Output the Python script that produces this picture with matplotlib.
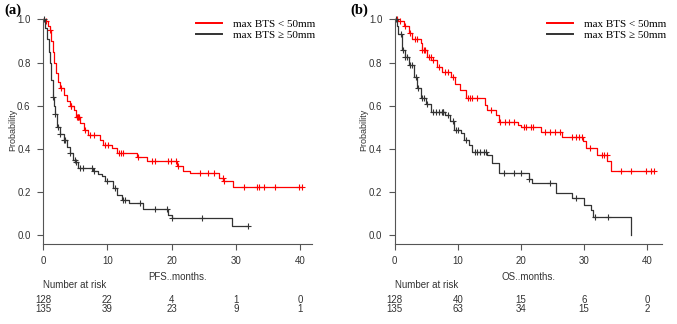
import matplotlib
matplotlib.use("Agg")
import matplotlib.pyplot as plt
import numpy as np

# ---- (a) PFS ----
pfs_lt50_t = [0, 0.3, 0.8, 1.1, 1.3, 1.5, 1.7, 2.0, 2.4, 2.7, 3.2, 3.8, 4.2, 4.8, 5.2, 5.75, 6.3,
              7.05, 8.9, 9.4, 10.7, 11.5, 14.6, 16.1, 20.8, 21.8, 22.9, 27.4, 28.0, 29.6]
pfs_lt50_s = [1.0, 0.99, 0.97, 0.95, 0.90, 0.85, 0.80, 0.75, 0.71, 0.68, 0.65, 0.62, 0.60, 0.58, 0.55, 0.52, 0.49,
              0.465, 0.442, 0.419, 0.404, 0.38, 0.365, 0.342, 0.322, 0.30, 0.29, 0.265, 0.25, 0.224]
pfs_lt50_end = 40.3
pfs_lt50_cens = [0.5, 1.1, 2.8, 4.3, 4.4, 5.3, 5.4, 5.5, 5.6, 6.6, 7.3, 8.0, 9.6, 10.1, 11.8, 12.1, 12.4,
                 14.8, 16.9, 17.4, 19.4, 19.9, 20.6, 21.0, 24.4, 25.6, 26.5, 27.9, 28.2, 31.2, 33.3, 33.6,
                 34.4, 36.1, 39.8, 40.2]

pfs_ge50_t = [0, 0.3, 0.6, 0.9, 1.1, 1.3, 1.5, 1.7, 1.9, 2.1, 2.6, 3.2, 3.7, 4.2, 4.7, 5.0, 5.5, 7.8, 8.5,
              9.1, 9.6, 10.9, 11.5, 12.2, 13.3, 15.6, 19.5, 20.0, 29.3]
pfs_ge50_s = [1.0, 0.96, 0.91, 0.85, 0.80, 0.72, 0.64, 0.60, 0.56, 0.50, 0.47, 0.44, 0.41, 0.38, 0.35, 0.34,
              0.31, 0.296, 0.285, 0.273, 0.25, 0.219, 0.188, 0.165, 0.152, 0.122, 0.096, 0.08, 0.042]
pfs_ge50_end = 31.9
pfs_ge50_cens = [0.1, 1.5, 1.9, 2.4, 2.6, 3.2, 3.4, 4.2, 4.9, 5.2, 5.8, 6.2, 7.6, 8.0, 9.9, 11.2, 12.4,
                 12.8, 15.0, 17.4, 19.2, 20.0, 24.7, 31.8]

# ---- (b) OS ----
os_lt50_t = [0, 0.5, 1.4, 2.2, 2.7, 4.1, 4.3, 5.1, 5.8, 6.7, 7.5, 9.0, 9.6, 10.4, 11.3, 14.3, 14.6, 16.0,
             16.6, 19.5, 20.0, 23.2, 26.6, 29.8, 30.3, 32.1, 33.7, 34.3]
os_lt50_s = [1.0, 0.99, 0.97, 0.935, 0.91, 0.89, 0.858, 0.827, 0.81, 0.78, 0.757, 0.735, 0.70, 0.675, 0.635,
             0.605, 0.58, 0.558, 0.527, 0.512, 0.50, 0.48, 0.457, 0.435, 0.404, 0.373, 0.342, 0.296]
os_lt50_end = 41.2
os_lt50_cens = [0.3, 0.9, 1.6, 2.5, 3.2, 3.6, 4.4, 4.6, 4.8, 5.5, 5.7, 6.0, 7.1, 8.0, 8.5, 9.2, 11.6, 11.9,
                12.2, 13.0, 15.2, 16.7, 17.5, 18.1, 18.9, 20.5, 20.8, 21.6, 21.9, 23.8, 24.6, 25.4, 26.2,
                28.2, 28.7, 29.2, 29.7, 31.0, 32.9, 33.2, 33.6, 35.9, 37.5, 39.8, 40.6, 41.1]

os_ge50_t = [0, 0.3, 0.6, 1.1, 1.6, 2.2, 3.0, 3.5, 4.1, 4.9, 5.7, 8.0, 8.8, 9.4, 10.5, 11.0, 11.8, 12.3,
             14.7, 15.5, 16.6, 21.3, 21.8, 25.6, 28.2, 30.1, 31.1, 31.5, 37.5]
os_ge50_s = [1.0, 0.97, 0.93, 0.86, 0.827, 0.789, 0.735, 0.68, 0.635, 0.61, 0.573, 0.556, 0.53, 0.488, 0.473,
             0.442, 0.419, 0.388, 0.373, 0.335, 0.288, 0.26, 0.242, 0.196, 0.173, 0.142, 0.119, 0.085, 0.0]
os_ge50_end = 37.5
os_ge50_cens = [0.2, 1.0, 1.3, 1.7, 2.0, 2.4, 2.7, 3.3, 3.7, 4.3, 4.6, 5.2, 6.0, 6.5, 7.0, 7.5, 7.6, 7.7,
                8.4, 9.2, 9.7, 10.0, 11.3, 12.8, 13.1, 13.5, 14.2, 14.5, 17.3, 19.0, 20.0, 21.3, 24.7,
                28.8, 31.8, 33.9]

risk_times = [0, 10, 20, 30, 40]
pfs_risk_lt50 = [128, 22, 4, 1, 0]
pfs_risk_ge50 = [135, 39, 23, 9, 1]
os_risk_lt50 = [128, 40, 15, 6, 0]
os_risk_ge50 = [135, 63, 34, 15, 2]

labels = ["max BTS < 50mm", "max BTS \u2265 50mm"]
colors = ["#ff0000", "#333333"]

SANS = ["Liberation Sans", "DejaVu Sans"]
SERIF = ["Liberation Serif", "DejaVu Serif"]
TXT = "#333333"


def km(ax, t, s, end, cens, color, label):
    x = list(t) + [end]
    y = list(s) + [s[-1]]
    ax.step(x, y, where="post", color=color, lw=0.9, label=label)
    idx = np.searchsorted(t, cens, side="right") - 1
    cy = np.array(s)[idx]
    ax.plot(cens, cy, ls="none", marker="+", ms=5, mew=0.8, color=color)


def panel(rect, xmax, curves, risks, xlabel, tag, tag_x):
    ax = fig.add_axes(rect)
    for c, col, lab in zip(curves, colors, labels):
        km(ax, *c, col, lab)
    ax.set_xlim(0, xmax)
    ax.set_ylim(-0.04, 1.02)
    ax.spines["top"].set_visible(False)
    ax.spines["right"].set_visible(False)
    ax.spines["left"].set_bounds(-0.04, 1.0)
    for sp in ("left", "bottom"):
        ax.spines[sp].set_color("#555555")
        ax.spines[sp].set_linewidth(0.8)
    ax.set_xticks([0, 10, 20, 30, 40])
    ax.set_yticks([0, 0.2, 0.4, 0.6, 0.8, 1.0])
    ax.set_yticklabels(["0.0", "0.2", "0.4", "0.6", "0.8", "1.0"])
    ax.tick_params(colors="#555555", labelcolor=TXT, length=4, width=0.8, labelsize=7, pad=5)
    for lb in ax.get_xticklabels() + ax.get_yticklabels():
        lb.set_family(SANS)
    ax.set_ylabel("Probability", fontsize=6.5, family=SANS, color=TXT, labelpad=0)
    ax.set_xlabel(xlabel, fontsize=7, family=SANS, color=TXT, labelpad=4)
    leg = ax.legend(loc="upper left", bbox_to_anchor=(0.57, 0.982), frameon=False,
                    prop={"family": SERIF, "size": 8}, handlelength=2.3, handletextpad=1.0,
                    borderpad=0, borderaxespad=0, labelspacing=0.12)
    for ln in leg.get_lines():
        ln.set_linewidth(1.4)
    tr = ax.get_xaxis_transform()
    ax.text(0, -0.179, "Number at risk", transform=tr, fontsize=7, family=SANS, color=TXT,
            ha="left", va="center")
    for row, yy in zip(risks, (-0.245, -0.286)):
        for tt, n in zip(risk_times, row):
            ax.text(tt, yy, str(n), transform=tr, fontsize=7, family=SANS, color=TXT,
                    ha="center", va="center")
    fig.text(tag_x, 0.968, tag, fontsize=10.5, fontweight="bold", family=SERIF,
             ha="left", va="center")
    return ax


fig = plt.figure(figsize=(6.77, 3.24), dpi=100)
panel([43 / 677, 80 / 324, 269 / 677, 229 / 324], 41.8,
      [(pfs_lt50_t, pfs_lt50_s, pfs_lt50_end, pfs_lt50_cens),
       (pfs_ge50_t, pfs_ge50_s, pfs_ge50_end, pfs_ge50_cens)],
      [pfs_risk_lt50, pfs_risk_ge50], "PFS..months.", "(a)", 4 / 677)
panel([394.7 / 677, 80 / 324, 267.3 / 677, 229 / 324], 42.4,
      [(os_lt50_t, os_lt50_s, os_lt50_end, os_lt50_cens),
       (os_ge50_t, os_ge50_s, os_ge50_end, os_ge50_cens)],
      [os_risk_lt50, os_risk_ge50], "OS..months.", "(b)", 350 / 677)

fig.savefig("out.png", dpi=100)
